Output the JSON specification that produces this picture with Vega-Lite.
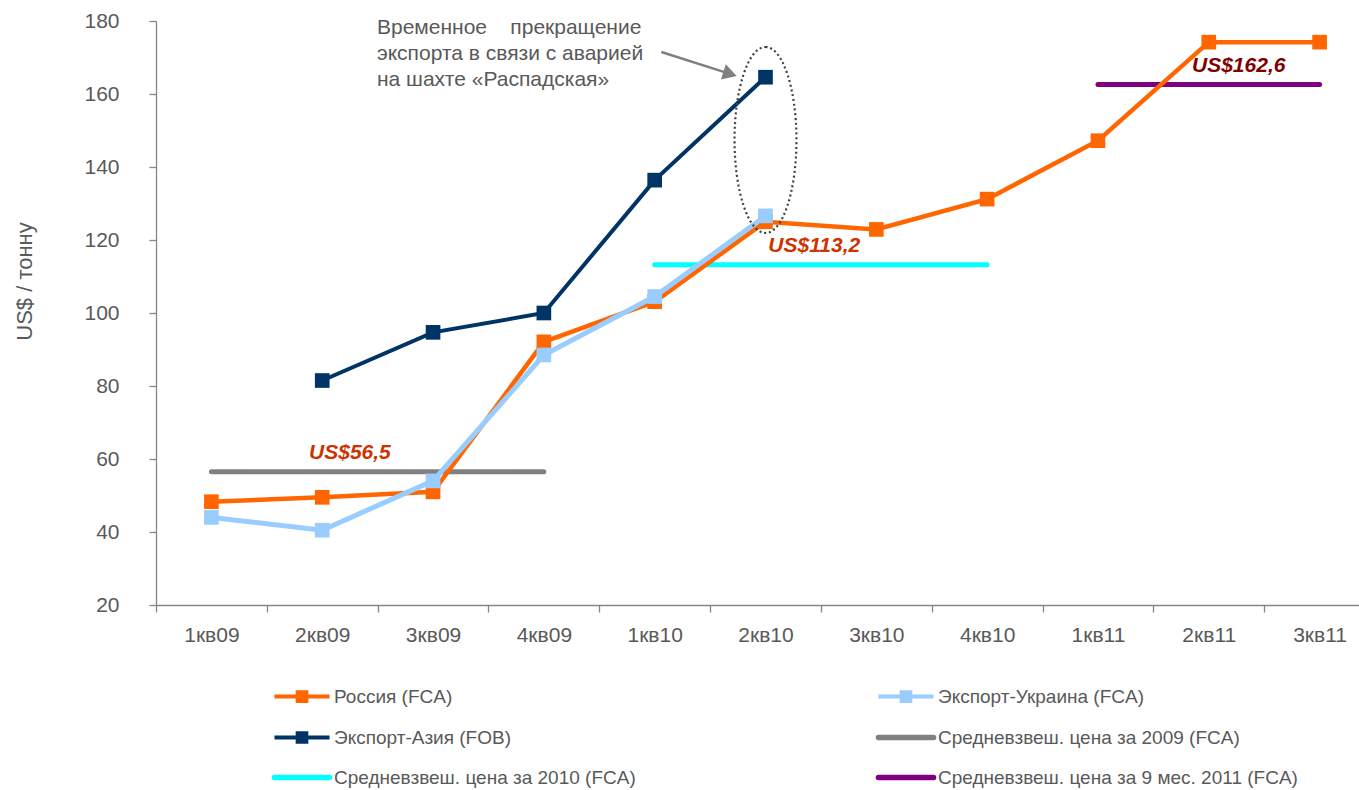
{
  "$schema": "https://vega.github.io/schema/vega-lite/v6.json",
  "width": 1203,
  "height": 584,
  "autosize": {"type": "none"},
  "padding": {"left": 156, "top": 21, "right": 0, "bottom": 185},
  "background": "white",
  "config": {
    "view": {"stroke": null},
    "font": "Liberation Sans",
    "text": {"font": "Liberation Sans"},
    "axisY": {
      "grid": false,
      "labelFont": "Liberation Sans",
      "labelFontSize": 21,
      "labelColor": "#595959",
      "labelPadding": 30,
      "tickSize": 7,
      "tickColor": "#868686",
      "tickWidth": 1.3,
      "domainColor": "#868686",
      "domainWidth": 1.3,
      "titleFont": "Liberation Sans",
      "titleFontSize": 22,
      "titleFontWeight": "normal",
      "titleColor": "#595959",
      "titleAngle": -90,
      "titleAlign": "center",
      "titleBaseline": "middle",
      "titleX": -132,
      "titleY": 260
    }
  },
  "datasets": {
    "prices": [
      {"series": "Россия (FCA)", "q": "1кв09", "value": 48.3},
      {"series": "Россия (FCA)", "q": "2кв09", "value": 49.5},
      {"series": "Россия (FCA)", "q": "3кв09", "value": 51.0},
      {"series": "Россия (FCA)", "q": "4кв09", "value": 92.1},
      {"series": "Россия (FCA)", "q": "1кв10", "value": 103.1},
      {"series": "Россия (FCA)", "q": "2кв10", "value": 125.0},
      {"series": "Россия (FCA)", "q": "3кв10", "value": 122.9},
      {"series": "Россия (FCA)", "q": "4кв10", "value": 131.2},
      {"series": "Россия (FCA)", "q": "1кв11", "value": 147.2},
      {"series": "Россия (FCA)", "q": "2кв11", "value": 174.2},
      {"series": "Россия (FCA)", "q": "3кв11", "value": 174.2},
      {"series": "Экспорт-Украина (FCA)", "q": "1кв09", "value": 44.0},
      {"series": "Экспорт-Украина (FCA)", "q": "2кв09", "value": 40.5},
      {"series": "Экспорт-Украина (FCA)", "q": "3кв09", "value": 54.0},
      {"series": "Экспорт-Украина (FCA)", "q": "4кв09", "value": 88.5},
      {"series": "Экспорт-Украина (FCA)", "q": "1кв10", "value": 104.5},
      {"series": "Экспорт-Украина (FCA)", "q": "2кв10", "value": 126.6},
      {"series": "Экспорт-Азия (FOB)", "q": "2кв09", "value": 81.5},
      {"series": "Экспорт-Азия (FOB)", "q": "3кв09", "value": 94.7},
      {"series": "Экспорт-Азия (FOB)", "q": "4кв09", "value": 100.0},
      {"series": "Экспорт-Азия (FOB)", "q": "1кв10", "value": 136.4},
      {"series": "Экспорт-Азия (FOB)", "q": "2кв10", "value": 164.6},
      {"series": "Средневзвеш. цена за 2009 (FCA)", "q": "1кв09", "value": 56.5},
      {"series": "Средневзвеш. цена за 2009 (FCA)", "q": "2кв09", "value": 56.5},
      {"series": "Средневзвеш. цена за 2009 (FCA)", "q": "3кв09", "value": 56.5},
      {"series": "Средневзвеш. цена за 2009 (FCA)", "q": "4кв09", "value": 56.5},
      {"series": "Средневзвеш. цена за 2010 (FCA)", "q": "1кв10", "value": 113.2},
      {"series": "Средневзвеш. цена за 2010 (FCA)", "q": "2кв10", "value": 113.2},
      {"series": "Средневзвеш. цена за 2010 (FCA)", "q": "3кв10", "value": 113.2},
      {"series": "Средневзвеш. цена за 2010 (FCA)", "q": "4кв10", "value": 113.2},
      {"series": "Средневзвеш. цена за 9 мес. 2011 (FCA)", "q": "1кв11", "value": 162.6},
      {"series": "Средневзвеш. цена за 9 мес. 2011 (FCA)", "q": "2кв11", "value": 162.6},
      {"series": "Средневзвеш. цена за 9 мес. 2011 (FCA)", "q": "3кв11", "value": 162.6}
    ],
    "averages": [
      {"series": "Средневзвеш. цена за 2009 (FCA)", "value": 56.5, "pos": 1.75},
      {"series": "Средневзвеш. цена за 2010 (FCA)", "value": 113.2, "pos": 5.94},
      {"series": "Средневзвеш. цена за 9 мес. 2011 (FCA)", "value": 162.6, "pos": 9.77}
    ]
  },
  "layer": [
    {
      "data": {"name": "prices"},
      "encoding": {
        "x": {
          "field": "q",
          "type": "ordinal",
          "bandPosition": 0.5,
          "scale": {
            "type": "band",
            "domain": ["1кв09", "2кв09", "3кв09", "4кв09", "1кв10", "2кв10", "3кв10", "4кв10", "1кв11", "2кв11", "3кв11"],
            "range": [0, 1219],
            "paddingInner": 0,
            "paddingOuter": 0
          },
          "axis": {
            "title": null,
            "tickBand": "extent",
            "labelAngle": 0,
            "labelFont": "Liberation Sans",
            "labelFontSize": 21,
            "labelColor": "#595959",
            "labelPadding": 12,
            "tickSize": 7,
            "tickColor": "#868686",
            "tickWidth": 1.3,
            "domainColor": "#868686",
            "domainWidth": 1.3
          }
        },
        "y": {
          "field": "value",
          "type": "quantitative",
          "title": "US$ / тонну",
          "scale": {"domain": [20, 180], "nice": false, "zero": false},
          "axis": {"values": [20, 40, 60, 80, 100, 120, 140, 160, 180]}
        },
        "color": {
          "field": "series",
          "type": "nominal",
          "scale": {
            "domain": ["Россия (FCA)", "Экспорт-Украина (FCA)", "Экспорт-Азия (FOB)", "Средневзвеш. цена за 2009 (FCA)", "Средневзвеш. цена за 2010 (FCA)", "Средневзвеш. цена за 9 мес. 2011 (FCA)"],
            "range": ["#FF6600", "#99CCFF", "#003366", "#808080", "#00FFFF", "#800080"]
          },
          "legend": {
            "title": null,
            "orient": "none",
            "direction": "horizontal",
            "legendX": 136.5,
            "legendY": 666,
            "columns": 2,
            "symbolType": "M-1.9,0H1.9",
            "symbolSize": 841,
            "symbolStrokeWidth": 4,
            "labelFont": "Liberation Sans",
            "labelFontSize": 19,
            "labelColor": "#595959",
            "labelOffset": 22.5,
            "labelLimit": 500,
            "columnPadding": 230,
            "rowPadding": 16,
            "encode": {
              "symbols": {
                "update": {
                  "shape": {"signal": "indexof(['Россия (FCA)', 'Экспорт-Украина (FCA)', 'Экспорт-Азия (FOB)'], datum.value) >= 0 ? 'M-1.9,0H1.9M-0.3,-0.3H0.3V0.3H-0.3Z' : 'M-1.9,0H1.9'"},
                  "fill": {"scale": "color", "field": "value"},
                  "stroke": {"scale": "color", "field": "value"},
                  "strokeWidth": {"signal": "indexof(['Россия (FCA)', 'Экспорт-Украина (FCA)', 'Экспорт-Азия (FOB)'], datum.value) >= 0 ? 4 : 5.5"},
                  "strokeCap": {"signal": "indexof(['Россия (FCA)', 'Экспорт-Украина (FCA)', 'Экспорт-Азия (FOB)'], datum.value) >= 0 ? 'butt' : 'round'"},
                  "opacity": {"value": 1}
                }
              }
            }
          }
        },
        "order": {"value": null}
      },
      "layer": [
        {
          "transform": [{"filter": "indexof(datum.series, 'Средневзвеш') === 0"}],
          "mark": {"type": "line", "strokeWidth": 5, "strokeCap": "round"}
        },
        {
          "transform": [{"filter": "datum.series === 'Россия (FCA)'"}],
          "mark": {"type": "line", "strokeWidth": 4.5, "point": {"shape": "square", "size": 215, "filled": true, "opacity": 1}}
        },
        {
          "transform": [{"filter": "datum.series === 'Экспорт-Украина (FCA)'"}],
          "mark": {"type": "line", "strokeWidth": 5, "point": {"shape": "square", "size": 215, "filled": true, "opacity": 1}}
        },
        {
          "transform": [{"filter": "datum.series === 'Экспорт-Азия (FOB)'"}],
          "mark": {"type": "line", "strokeWidth": 4, "point": {"shape": "square", "size": 215, "filled": true, "opacity": 1}}
        }
      ]
    },
    {
      "encoding": {
        "x": {
          "field": "pos",
          "type": "quantitative",
          "scale": {"domain": [0, 11], "range": [0, 1219], "nice": false, "zero": false},
          "axis": null
        },
        "y": {
          "field": "value",
          "type": "quantitative",
          "title": "US$ / тонну",
          "scale": {"domain": [20, 180], "nice": false, "zero": false},
          "axis": {"values": [20, 40, 60, 80, 100, 120, 140, 160, 180]}
        }
      },
      "layer": [
        {
          "data": {"values": [{"pos": 5.5, "value": 147.4}]},
          "mark": {"type": "point", "shape": "M0,-1A0.333,1,0,1,1,0,1A0.333,1,0,1,1,0,-1Z", "size": 34596, "filled": false, "color": "#404040", "strokeWidth": 2.2, "strokeDash": [2, 2.8], "opacity": 1}
        },
        {
          "data": {"values": [{"pos": 4.56, "value": 171.5, "pos2": 5.18, "value2": 165.5}]},
          "mark": {"type": "rule", "color": "#808080", "strokeWidth": 2.5},
          "encoding": {"x2": {"field": "pos2"}, "y2": {"field": "value2"}}
        },
        {
          "data": {"values": [{"pos": 5.18, "value": 165.5}]},
          "mark": {"type": "point", "shape": "triangle-right", "angle": 17.6, "size": 260, "filled": true, "color": "#808080", "opacity": 1}
        },
        {
          "data": {"values": [{"pos": 1.994, "value": 176.4, "note": "Временное\u00a0\u00a0\u00a0\u00a0прекращение\nэкспорта в связи с аварией\nна шахте «Распадская»"}]},
          "mark": {"type": "text", "align": "left", "baseline": "alphabetic", "lineBreak": "\n", "lineHeight": 26, "fontSize": 21, "font": "Liberation Sans", "color": "#595959"},
          "encoding": {"text": {"field": "note", "type": "nominal"}}
        },
        {
          "data": {"name": "averages"},
          "transform": [{"calculate": "'US$' + replace(format(datum.value, '.1f'), '.', ',')", "as": "label"}],
          "mark": {"type": "text", "align": "center", "baseline": "middle", "dy": -19, "fontSize": 21, "fontWeight": "bold", "fontStyle": "italic", "font": "Liberation Sans"},
          "encoding": {
            "text": {"field": "label", "type": "nominal"},
            "color": {"condition": {"test": "datum.value > 150", "value": "#7F0000"}, "value": "#CC3300"}
          }
        }
      ]
    }
  ],
  "resolve": {"scale": {"x": "independent"}, "axis": {"x": "independent"}}
}
